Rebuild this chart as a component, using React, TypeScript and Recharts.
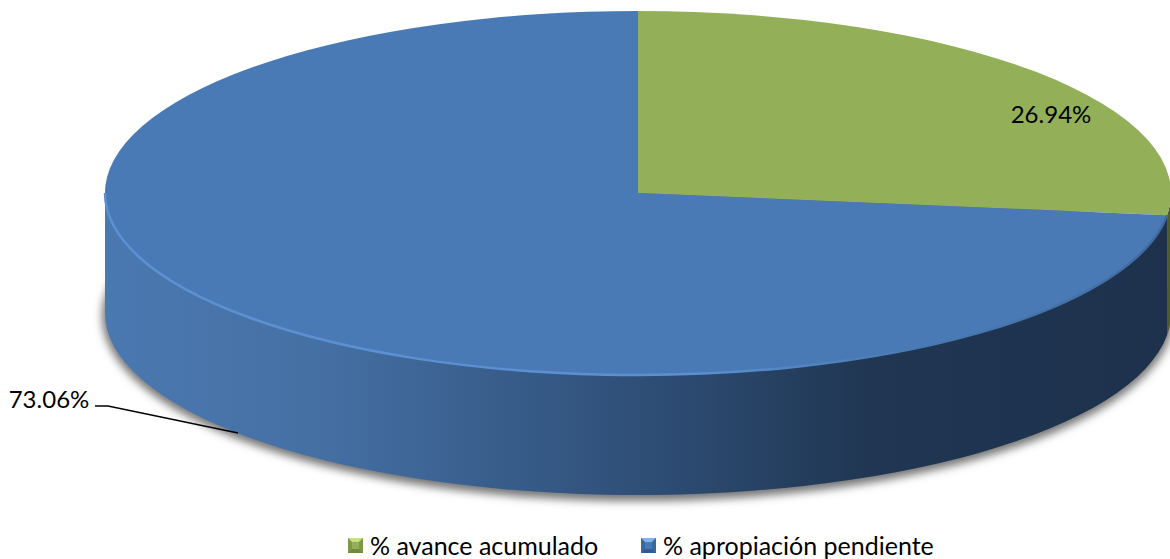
import React from "react";
import { PieChart, Pie, Cell, Legend } from "recharts";

const categories = ["% avance acumulado", "% apropiación pendiente"];
const values = [26.94, 73.06];
const colors = ["#93af58", "#4a7ab5"];

const W = 1170;
const H = 559;
const CX = 638;
const CY = 193;
const RX = 533;
const SQUASH = 0.3415;
const RY = RX * SQUASH;
const DEPTH = 120;
const FONT = "Lato, 'Open Sans', sans-serif";

const data = categories.map((name, i) => ({ name, value: values[i], color: colors[i] }));

const RAD = Math.PI / 180;
const pt = (deg: number, dy = 0) => [CX + RX * Math.cos(deg * RAD), CY - RY * Math.sin(deg * RAD) + dy];

// flattened sector plus the part of its wall that faces the viewer
function Sector3D(props: any) {
  const { startAngle, endAngle, fill } = props;
  const [sx, sy] = pt(startAngle);
  const [ex, ey] = pt(endAngle);
  const large = Math.abs(startAngle - endAngle) > 180 ? 1 : 0;
  const top = `M${CX},${CY} L${sx},${sy} A${RX},${RY} 0 ${large} 1 ${ex},${ey} Z`;

  // front of the disc runs from 0 to -180 degrees
  const from = Math.min(startAngle, 0);
  const to = Math.max(endAngle, -180);
  let wall = null;
  let rim = "";
  if (from > to) {
    const [ax, ay] = pt(from);
    const [bx, by] = pt(to);
    rim = `M${ax},${ay} A${RX},${RY} 0 0 1 ${bx},${by}`;
    const d = `${rim} L${bx},${by + DEPTH} A${RX},${RY} 0 0 0 ${ax},${ay + DEPTH} Z`;
    wall = <path d={d} fill={startAngle === 90 ? "#4c5c2c" : "url(#wallFill)"} />;
  }
  return (
    <g>
      {startAngle === 90 && (
        <ellipse cx={CX} cy={CY + DEPTH + 3} rx={RX + 3} ry={RY + 3} fill="#777" filter="url(#softShadow)" />
      )}
      {wall}
      <path d={top} fill={fill} />
      {startAngle !== 90 && rim && (
        <path d={rim} fill="none" stroke="url(#rimStroke)" strokeWidth={2.5} filter="url(#rimBlur)" />
      )}
    </g>
  );
}

function PctLabel(props: any) {
  const { index, value } = props;
  const text = `${value.toFixed(2)}%`;
  if (index === 0) {
    return (
      <text x={CX + 413} y={CY - 80} textAnchor="middle" dominantBaseline="central" fontSize={24} fontFamily={FONT} fill="#000">
        {text}
      </text>
    );
  }
  return (
    <g>
      <path d={`M${CX - 543},${CY + 213} L${CX - 530},${CY + 213} L${CX - 400},${CY + 240}`} fill="none" stroke="#000" strokeWidth={1.5} />
      <text x={CX - 589} y={CY + 205} textAnchor="middle" dominantBaseline="central" fontSize={24} fontFamily={FONT} fill="#000">
        {text}
      </text>
    </g>
  );
}

function LegendIcon({ color, light, dark }: { color: string; light: string; dark: string }) {
  return (
    <svg width={15} height={15} style={{ display: "block" }}>
      <rect width={15} height={15} fill={color} />
      <polygon points="0,0 15,0 11,4 4,4" fill={light} />
      <polygon points="0,15 15,15 11,11 4,11" fill={dark} />
      <polygon points="0,0 4,4 4,11 0,15" fill={dark} opacity={0.6} />
      <polygon points="15,0 11,4 11,11 15,15" fill={dark} opacity={0.6} />
    </svg>
  );
}

const iconShades = [
  { light: "#c8e07e", dark: "#6f8a3a" },
  { light: "#7fb4ee", dark: "#2f5a92" },
];

function renderLegend() {
  return (
    <div style={{ position: "relative", width: W, height: 30, fontFamily: FONT, fontSize: 25, color: "#000" }}>
      {data.map((d, i) => (
        <div
          key={d.name}
          style={{ position: "absolute", left: i === 0 ? 348 : 641, top: 0, display: "flex", alignItems: "center", gap: 7, lineHeight: "30px", whiteSpace: "nowrap" }}
        >
          <LegendIcon color={d.color} {...iconShades[i]} />
          <span>{d.name}</span>
        </div>
      ))}
    </div>
  );
}

export default function App() {
  return (
    <div style={{ position: "absolute", left: 0, top: 0, width: W, height: H, background: "#fff" }}>
      <PieChart width={W} height={H} margin={{ top: 0, right: 0, bottom: 0, left: 0 }}>
        <defs>
          <linearGradient id="wallFill" gradientUnits="userSpaceOnUse" x1={CX - RX} y1={0} x2={CX + RX} y2={0}>
            <stop offset="0" stopColor="#4a78b0" />
            <stop offset="0.2" stopColor="#4570a4" />
            <stop offset="0.5" stopColor="#2f4f78" />
            <stop offset="0.72" stopColor="#203652" />
            <stop offset="1" stopColor="#1d314c" />
          </linearGradient>
          <linearGradient id="rimStroke" gradientUnits="userSpaceOnUse" x1={CX - RX} y1={0} x2={CX + RX} y2={0}>
            <stop offset="0" stopColor="#5b90d2" />
            <stop offset="0.55" stopColor="#5b90d2" />
            <stop offset="0.75" stopColor="#4a7ab5" />
            <stop offset="1" stopColor="#3f6a9e" />
          </linearGradient>
          <filter id="softShadow" x="-5%" y="-10%" width="110%" height="120%">
            <feGaussianBlur stdDeviation="4" />
          </filter>
          <filter id="rimBlur" x="-5%" y="-10%" width="110%" height="120%">
            <feGaussianBlur stdDeviation="0.7" />
          </filter>
        </defs>
        <Pie
          data={data}
          dataKey="value"
          nameKey="name"
          cx={CX}
          cy={CY}
          outerRadius={RX}
          startAngle={90}
          endAngle={-270}
          stroke="none"
          shape={Sector3D}
          label={PctLabel}
          labelLine={false}
          isAnimationActive={false}
        >
          {data.map((d) => (
            <Cell key={d.name} fill={d.color} />
          ))}
        </Pie>
        <Legend content={renderLegend} wrapperStyle={{ position: "absolute", left: 0, top: 530, width: W, bottom: "auto" }} />
      </PieChart>
    </div>
  );
}
